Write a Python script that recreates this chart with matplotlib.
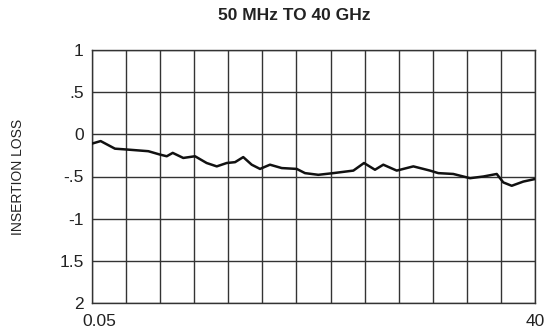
import numpy as np
import matplotlib
matplotlib.use("Agg")
import matplotlib.pyplot as plt
from matplotlib.transforms import ScaledTranslation

# insertion loss trace (dB) vs frequency (GHz)
freq_ghz = [0.05, 0.83, 2.12, 3.18, 5.13, 6.18, 6.79, 7.33, 8.28, 9.34,
            10.39, 11.30, 12.20, 12.95, 13.69, 14.45, 15.20, 16.10, 17.16, 18.51,
            19.26, 20.46, 21.81, 23.62, 24.58, 25.57, 26.32, 27.53, 29.03, 30.53,
            31.28, 32.63, 34.14, 35.34, 36.55, 37.14, 37.90, 38.95, 40.0]
loss_db = [-0.11, -0.08, -0.17, -0.18, -0.20, -0.24, -0.26, -0.22, -0.28, -0.26,
           -0.34, -0.38, -0.34, -0.33, -0.27, -0.36, -0.41, -0.36, -0.40, -0.41,
           -0.46, -0.48, -0.46, -0.43, -0.34, -0.42, -0.36, -0.43, -0.38, -0.43,
           -0.46, -0.47, -0.52, -0.50, -0.47, -0.57, -0.61, -0.56, -0.53]

y_ticks = [1, 0.5, 0, -0.5, -1, -1.5, -2]
y_labels = ["1", ".5", "0", "-.5", "-1", "1.5", "2"]
x_min, x_max = 0.05, 40.0
n_cols = 13

plt.rcParams["font.family"] = ["Liberation Sans", "DejaVu Sans"]

fig = plt.figure(figsize=(5.48, 3.33), dpi=100)
ax = fig.add_axes([92 / 548, 30 / 333, 443 / 548, 253 / 333])

ax.plot(freq_ghz, loss_db, color="#111111", linewidth=1.8, zorder=3,
        solid_joinstyle="round")

ax.set_xlim(x_min, x_max)
ax.set_ylim(-2, 1)

ax.set_xticks(np.linspace(x_min, x_max, n_cols + 1), minor=True)
ax.set_xticks([x_min, x_max])
ax.set_xticklabels(["0.05", "40"])
ax.set_yticks(y_ticks)
ax.set_yticklabels(y_labels)

ax.grid(True, which="both", color="#333333", linewidth=1.0)
ax.tick_params(which="both", length=0, labelsize=12.5, colors="#222222", pad=6)
ax.tick_params(axis="x", pad=8)
for s in ax.spines.values():
    s.set_color("#333333")
    s.set_linewidth(1.0)

# first x label sits a bit right of the axis corner
lbl = ax.get_xticklabels()[0]
lbl.set_transform(lbl.get_transform() + ScaledTranslation(7 / 100, 0, fig.dpi_scale_trans))

ax.set_ylabel("INSERTION LOSS", fontsize=10, color="#222222", labelpad=25)

fig.text(294 / 548, 0.952, "50 MHz TO 40 GHz", ha="center", va="center",
         fontsize=12.5, fontweight="bold", color="#222222",
         family=["Liberation Sans Narrow", "Liberation Sans", "DejaVu Sans"])

fig.savefig("out.png", dpi=100)
plt.close(fig)
